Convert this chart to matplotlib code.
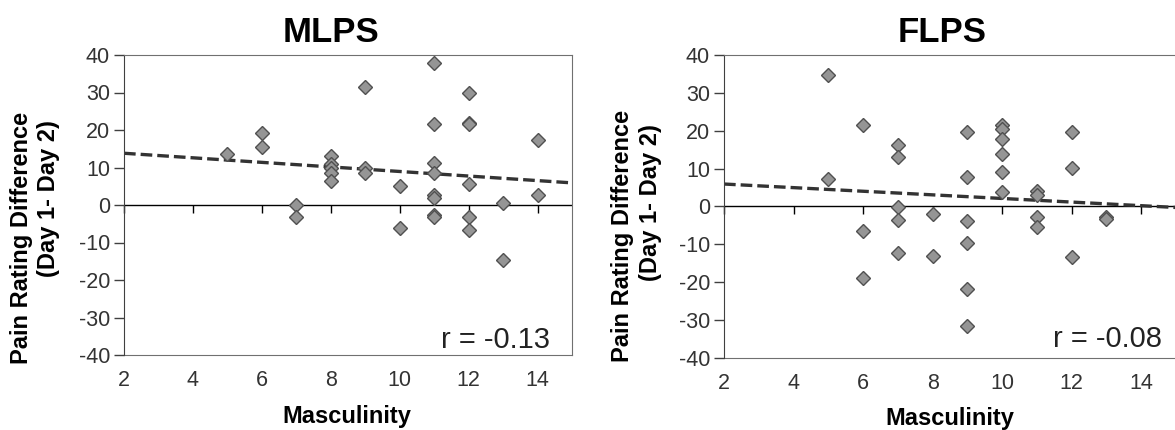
import matplotlib.pyplot as plt
import numpy as np

plt.rcParams["font.family"] = ["Liberation Sans", "DejaVu Sans"]
plt.rcParams["axes.unicode_minus"] = False

# MLPS data
mlps_x = [5, 6, 6, 7, 7, 8, 8, 8, 8, 8, 9, 9, 9, 10, 10,
          11, 11, 11, 11, 11, 11, 11, 11, 12, 12, 12, 12, 12, 12, 13, 13, 14, 14]
mlps_y = [13.6, 19.2, 15.6, 0, -3.1, 13.1, 11.0, 10.0, 8.5, 6.5, 31.6, 10.0, 8.6, 5.2, -6.1,
          37.8, 21.6, 11.3, 8.6, 2.7, 1.9, -2.6, -3.3, 29.8, 21.8, 21.5, 5.5, -3.2, -6.6, 0.5, -14.6, 17.4, 2.8]
mlps_trend = [13.8, 5.9]   # at x=2 and x=15
mlps_r = "r = -0.13"

# FLPS data
flps_x = [5, 5, 6, 6, 6, 7, 7, 7, 7, 7, 8, 8, 9, 9, 9, 9, 9, 9,
          10, 10, 10, 10, 10, 10, 11, 11, 11, 11, 12, 12, 12, 13, 13]
flps_y = [34.8, 7.2, 21.5, -6.6, -18.9, 16.1, 13.0, -0.3, -3.5, -12.4, -2.0, -13.0,
          19.6, 7.7, -4.0, -9.7, -21.9, -31.7,
          21.5, 20.5, 17.8, 13.8, 9.0, 3.7, 4.0, 3.0, -2.9, -5.5, 19.7, 10.1, -13.3, -2.7, -3.4]
flps_trend = [5.9, -0.3]
flps_r = "r = -0.08"

trend_x = [2, 15]
xticks = [2, 4, 6, 8, 10, 12, 14]
yticks = [-40, -30, -20, -10, 0, 10, 20, 30, 40]

fig = plt.figure(figsize=(11.75, 4.3), dpi=100)
W, H = 1175, 430


def panel(rect, xs, ys, trend, rtxt, rpos):
    ax = fig.add_axes(rect)
    ax.set_xlim(2, 15)
    ax.set_ylim(-40, 40)
    ax.plot(trend_x, trend, color="#333333", lw=2.4, dashes=(3.5, 1.5), zorder=2)
    ax.axhline(0, color="black", lw=1.0, zorder=1)
    ax.plot(xs, ys, ls="none", marker="D", ms=7, mfc="#959595", mec="#505050",
            mew=1.0, zorder=3)
    for s in ["top", "right", "left"]:
        ax.spines[s].set_color("#707070")
    ax.spines["left"].set_color("#404040")
    ax.spines["bottom"].set_visible(False)
    ax.set_xticks(xticks)
    ax.tick_params(axis="x", direction="out", length=6, width=1, color="black",
                   labelbottom=False)
    ax.set_yticks(yticks)
    ax.tick_params(axis="y", direction="out", length=7, width=1, color="#404040",
                   labelsize=15.5, labelcolor="#333333", pad=3)
    # x tick marks sit on the zero line, labels at the bottom of the plot area
    ax.spines["bottom"].set_position(("data", 0))
    sec = ax.secondary_xaxis(0.0)
    sec.set_xticks(xticks)
    sec.tick_params(length=0, pad=11, labelsize=15.5, labelcolor="#333333")
    sec.spines["bottom"].set_color("#707070")
    ax.text(rpos[0], rpos[1], rtxt, transform=ax.transAxes, ha="right", va="baseline",
            fontsize=21, color="#222222")
    return ax


ax1 = panel([124 / W, 1 - 355 / H, 448 / W, 300 / H], mlps_x, mlps_y, mlps_trend,
            mlps_r, (0.951, 0.023))
ax2 = panel([724 / W, 1 - 357.7 / H, 452 / W, 302.7 / H], flps_x, flps_y, flps_trend,
            flps_r, (0.969, 0.035))

# titles
fig.text(331 / W, 1 - 42 / H, "MLPS", ha="center", va="baseline", fontsize=25,
         fontweight="bold")
fig.text(942 / W, 1 - 42 / H, "FLPS", ha="center", va="baseline", fontsize=25,
         fontweight="bold")

# x labels
fig.text(347 / W, 1 - 423 / H, "Masculinity", ha="center", va="baseline", fontsize=17,
         fontweight="bold")
fig.text(950 / W, 1 - 425 / H, "Masculinity", ha="center", va="baseline", fontsize=17,
         fontweight="bold")

# y labels (two lines, placed separately)
for x1, y1, x2, y2 in [(22, 238, 49, 199), (622, 236, 650, 203)]:
    fig.text(x1 / W, 1 - y1 / H, "Pain Rating Difference", rotation=90, ha="center",
             va="center", fontsize=17, fontweight="bold")
    fig.text(x2 / W, 1 - y2 / H, "(Day 1- Day 2)", rotation=90, ha="center",
             va="center", fontsize=17, fontweight="bold")

fig.savefig("out.png", dpi=100)
